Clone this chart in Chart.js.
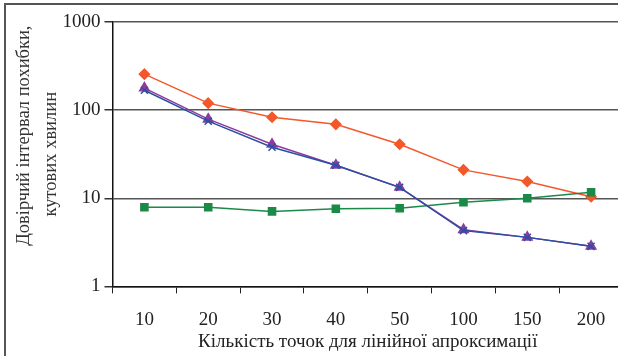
<!DOCTYPE html>
<html>
<head>
<meta charset="utf-8">
<script src="https://cdn.jsdelivr.net/npm/chart.js@4/dist/chart.umd.min.js"></script>
<style>
    html, body { margin: 0; padding: 0; background: #fff; overflow: hidden; width: 618px; height: 356px; }
    #frame { position: absolute; left: 4px; top: 3px; width: 700px; height: 400px;
             border-left: 2px solid #555; border-top: 2px solid #555; }
    #wrap { position: absolute; left: 0; top: 0; width: 640px; height: 356px; }
</style>
</head>
<body>
<div id="frame"></div>
<div id="wrap"><canvas id="chart"></canvas></div>
<script>
// Кількість точок
const categories = ['10', '20', '30', '40', '50', '100', '150', '200'];

const orangeValues = [256, 120, 83, 69, 41, 21, 15.5, 10.4];
const purpleValues = [178, 79, 41, 23.7, 13.3, 4.4, 3.6, 2.85];
const blueValues = [168, 75, 38, 23.7, 13.3, 4.3, 3.6, 2.85];
const greenValues = [7.9, 7.9, 7.1, 7.6, 7.7, 9.0, 10.0, 11.7];

const yTicks = [1, 10, 100, 1000];

const family = '"Liberation Serif", "Times New Roman", serif';
const font = { family: family, size: 19 };

const ctx = document.getElementById('chart').getContext('2d');
new Chart(ctx, {
    type: 'line',
    data: {
        labels: categories,
        datasets: [
            {
                data: blueValues,
                borderColor: '#2b4fa3',
                backgroundColor: '#2b4fa3',
                borderWidth: 1.5,
                pointStyle: 'crossRot',
                pointRadius: 5,
                pointBorderWidth: 1.5
            },
            {
                data: purpleValues,
                borderColor: '#8e3c9c',
                backgroundColor: '#8e3c9c',
                borderWidth: 1.5,
                pointStyle: 'triangle',
                pointRadius: 5.5
            },
            {
                data: greenValues,
                borderColor: '#1b8a48',
                backgroundColor: '#1b8a48',
                borderWidth: 1.5,
                pointStyle: 'rect',
                pointRadius: 5
            },
            {
                data: orangeValues,
                borderColor: '#f4582a',
                backgroundColor: '#f4582a',
                borderWidth: 1.5,
                pointStyle: 'rectRot',
                pointRadius: 5
            }
        ]
    },
    options: {
        responsive: true,
        maintainAspectRatio: false,
        animation: false,
        layout: { padding: { top: 22, right: 17, bottom: 3, left: 10 } },
        plugins: { legend: { display: false }, tooltip: { enabled: false } },
        scales: {
            x: {
                offset: true,
                grid: {
                    offset: true,
                    drawOnChartArea: false,
                    drawTicks: true,
                    tickLength: 7,
                    tickColor: '#222'
                },
                border: { color: '#111', width: 1.5 },
                ticks: { color: '#222', font: font, padding: 15, maxRotation: 0 },
                title: {
                    display: true,
                    text: 'Кількість точок для лінійної апроксимації',
                    color: '#222',
                    font: font,
                    padding: { top: -16, bottom: 0 }
                }
            },
            y: {
                type: 'logarithmic',
                min: 1,
                max: 1000,
                afterBuildTicks: axis => {
                    axis.ticks = yTicks.map(v => ({ value: v }));
                },
                grid: {
                    color: '#555',
                    lineWidth: 1.5,
                    tickLength: 8,
                    tickColor: '#333'
                },
                border: { color: '#111', width: 1.5 },
                ticks: {
                    color: '#222',
                    font: font,
                    padding: 4,
                    callback: v => String(v)
                },
                title: {
                    display: true,
                    text: ['        Довірчий інтервал похибки,', 'кутових хвилин'],
                    color: '#333',
                    font: { family: family, size: 18.5, lineHeight: 1.5 },
                    padding: { top: 0, bottom: -7 }
                }
            }
        }
    }
});
</script>
</body>
</html>
